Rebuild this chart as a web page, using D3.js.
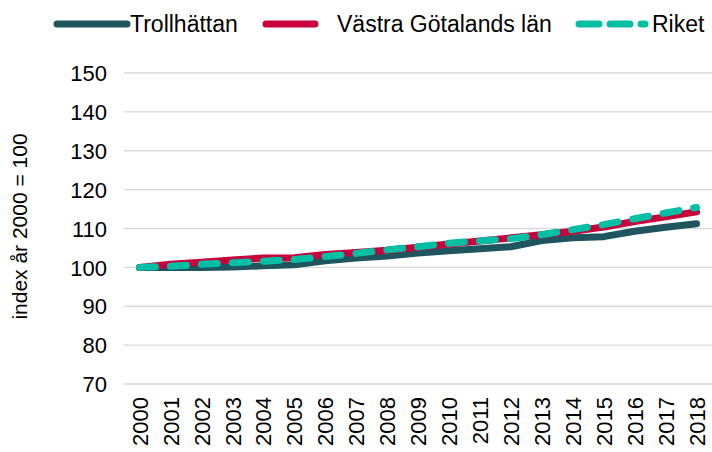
<!DOCTYPE html>
<html>
<head>
<meta charset="utf-8">
<script src="https://d3js.org/d3.v7.min.js"></script>
<style>
  body { margin: 0; background: #fff; }
  text { font-family: "Liberation Sans", Arial, sans-serif; fill: #000; }
</style>
</head>
<body>
<svg width="712" height="452" id="mainsvg"></svg>
<script>
// years on the x axis
const years = ['2000','2001','2002','2003','2004','2005','2006','2007','2008','2009',
               '2010','2011','2012','2013','2014','2015','2016','2017','2018'];
// index, year 2000 = 100
const trollhattan = [100, 100, 100, 100.1, 100.4, 100.7, 101.7, 102.4, 102.9, 103.7,
                     104.3, 104.8, 105.3, 106.9, 107.6, 107.9, 109.3, 110.3, 111.2];
const vastra = [100, 100.8, 101.3, 101.9, 102.4, 102.5, 103.3, 103.8, 104.4, 105.2,
                106.0, 106.8, 107.6, 108.4, 109.3, 110.4, 111.8, 113.0, 114.3];
const riket = [100, 100.3, 100.8, 101.2, 101.6, 102.0, 102.8, 103.6, 104.5, 105.3,
               106.2, 106.8, 107.4, 108.4, 109.7, 111.0, 112.5, 114.0, 115.4];
const yTicks = [70, 80, 90, 100, 110, 120, 130, 140, 150];

const series = [
  { name: 'Trollhättan', values: trollhattan, color: '#1f555e', dash: null },
  { name: 'Västra Götalands län', values: vastra, color: '#c8003c', dash: null },
  { name: 'Riket', values: riket, color: '#00bfa5', dash: '16,15' }
];

const svg = d3.select('#mainsvg');
const margin = { top: 73, right: 0, bottom: 69, left: 124 };
const width = +svg.attr('width');
const height = +svg.attr('height');
const innerWidth = width - margin.left - margin.right;
const innerHeight = height - margin.top - margin.bottom;

const g = svg.append('g')
    .attr('transform', `translate(${margin.left}, ${margin.top})`);

const xScale = d3.scalePoint()
    .domain(years)
    .range([0, innerWidth])
    .padding(0.5);

const yScale = d3.scaleLinear()
    .domain([70, 150])
    .range([innerHeight + 1, 0]);

// grid lines
g.append('g').selectAll('line')
    .data(yTicks)
    .join('line')
    .attr('x1', 0)
    .attr('x2', innerWidth)
    .attr('y1', d => yScale(d))
    .attr('y2', d => yScale(d))
    .attr('stroke', '#d9d9d9')
    .attr('stroke-width', 1.3);

// y axis
const yAxis = d3.axisLeft(yScale).tickValues(yTicks).tickSize(0).tickPadding(17);
const yAxisGroup = g.append('g').call(yAxis);
yAxisGroup.select('.domain').remove();
yAxisGroup.selectAll('text').attr('font-size', 22).attr('dy', '0.35em');

// x axis
const xAxis = d3.axisBottom(xScale).tickSize(0);
const xAxisGroup = g.append('g')
    .attr('transform', `translate(0, ${innerHeight})`)
    .call(xAxis);
xAxisGroup.select('.domain').remove();
xAxisGroup.selectAll('text')
    .attr('font-size', 22)
    .attr('text-anchor', 'end')
    .attr('transform', 'rotate(-90)')
    .attr('x', -14)
    .attr('y', 0)
    .attr('dy', '0.35em');

// y axis title
svg.append('text')
    .text('index år 2000 = 100')
    .attr('font-size', 21)
    .attr('text-anchor', 'middle')
    .attr('transform', `translate(27, ${yScale(110) + margin.top - 2}) rotate(-90)`);

// lines
const line = d3.line()
    .x((d, i) => xScale(years[i]))
    .y(d => yScale(d));

series.forEach(s => {
  g.append('path')
      .datum(s.values)
      .attr('d', line)
      .attr('fill', 'none')
      .attr('stroke', s.color)
      .attr('stroke-width', 7)
      .attr('stroke-linecap', 'round')
      .attr('stroke-linejoin', 'round')
      .attr('stroke-dasharray', s.dash);
});

// legend
const legendItems = [
  { x1: 57, x2: 127, tx: 130 },
  { x1: 266, x2: 315, tx: 337 },
  { x1: 579, x2: 645, tx: 652 }
];
const legend = svg.append('g');
series.forEach((s, i) => {
  const p = legendItems[i];
  legend.append('line')
      .attr('x1', p.x1).attr('x2', p.x2)
      .attr('y1', 24).attr('y2', 24)
      .attr('stroke', s.color)
      .attr('stroke-width', 7)
      .attr('stroke-linecap', 'round')
      .attr('stroke-dasharray', s.dash ? '20,11' : null);
  legend.append('text')
      .text(s.name)
      .attr('x', p.tx)
      .attr('y', 24)
      .attr('dy', '0.35em')
      .attr('font-size', 23);
});
</script>
</body>
</html>
